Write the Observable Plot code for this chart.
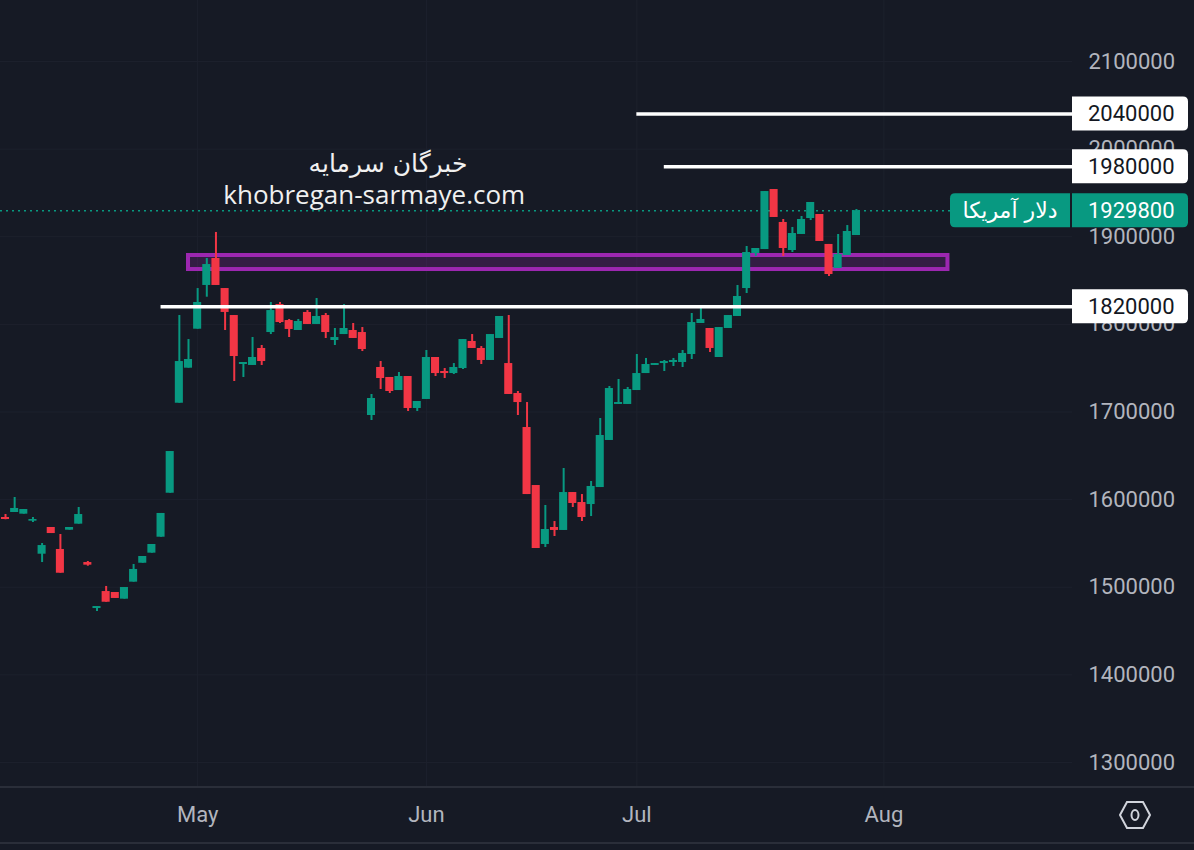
<!DOCTYPE html>
<html>
<head>
<meta charset="utf-8">
<script src="https://cdn.jsdelivr.net/npm/d3@7"></script>
<script src="https://cdn.jsdelivr.net/npm/@observablehq/plot@0.6"></script>
<style>
html, body { margin: 0; padding: 0; background: #161a25; overflow: hidden; }
#chart { width: 1194px; height: 850px; }
</style>
</head>
<body>
<div id="chart"></div>
<script>
// ---------- data ----------
const candleIndex = d3.range(94);
const openPrices = [
  1579600,1585300,1583400,1575400,1537700,1568200,1543100,1565100,1572000,1528200,
  1475700,1495100,1494000,1486400,1505800,1527400,1538900,1557100,1607300,1710000,
  1750000,1794500,1844400,1875200,1840900,1810100,1754200,1753100,1772500,1790700,
  1822700,1804400,1793000,1813600,1799900,1810100,1781600,1788400,1793000,1790700,
  1696000,1750800,1739400,1724500,1740500,1704000,1714300,1762200,1746200,1743900,
  1749600,1780500,1772500,1758800,1783900,1755300,1721100,1682300,1616100,1548800,
  1568200,1564800,1608100,1596700,1594400,1613800,1667500,1708600,1708600,1724500,
  1743900,1753100,1755300,1756500,1756500,1765600,1801000,1795300,1762200,1795300,
  1809000,1840900,1880900,1885400,1953900,1916300,1884300,1902600,1920800,1925400,
  1891200,1863800,1878600,1901400
];
const highPrices = [
  1583000,1602400,1588700,1579600,1549900,1568200,1560200,1568200,1591000,1529400,
  1478000,1500900,1494000,1499700,1526000,1535100,1548800,1584200,1654900,1810100,
  1782700,1840900,1875200,1904900,1840900,1810100,1756500,1785000,1775900,1825000,
  1825000,1805600,1805600,1815800,1829500,1812400,1795300,1822700,1801000,1796400,
  1720000,1757600,1739400,1745100,1740500,1712000,1770200,1762200,1749600,1755300,
  1782700,1788400,1774700,1788400,1809000,1810100,1723400,1710800,1616100,1593300,
  1575000,1635500,1608100,1605800,1620700,1692600,1729100,1737100,1728000,1765600,
  1761100,1755300,1758800,1761100,1770200,1812400,1819300,1795300,1796400,1810100,
  1844400,1888900,1886600,1951600,1953900,1919700,1910600,1923100,1939100,1925400,
  1891200,1902600,1912800,1931100
];
const lowPrices = [
  1577000,1585300,1583400,1573900,1528200,1561300,1516000,1565100,1572000,1524000,
  1472300,1482900,1487200,1486400,1505800,1527400,1538900,1557100,1607300,1710000,
  1750000,1794500,1831000,1844400,1793000,1734800,1739400,1753100,1753100,1788400,
  1801000,1785000,1793000,1799900,1799900,1783900,1775900,1788400,1783900,1769000,
  1690300,1725700,1721100,1724500,1700600,1700600,1714300,1740500,1738200,1742800,
  1748500,1772500,1754200,1758800,1783900,1720000,1696000,1605800,1544200,1545400,
  1557900,1564800,1591000,1575000,1580700,1613800,1667500,1708600,1708600,1724500,
  1743900,1753100,1746200,1751900,1750800,1759900,1801000,1767900,1762200,1795300,
  1809000,1835200,1877500,1885400,1922000,1877500,1882000,1902600,1918500,1894600,
  1854600,1863800,1878600,1901400
];
const closePrices = [
  1577300,1589900,1588700,1577300,1547600,1561300,1516000,1568200,1583000,1525200,
  1478000,1482900,1487200,1499700,1520300,1535100,1548800,1584200,1654900,1757600,
  1759900,1825000,1868300,1844400,1813600,1763300,1756500,1762200,1757600,1815800,
  1802100,1794200,1803300,1799900,1809000,1790700,1785000,1795300,1783900,1771300,
  1715400,1738200,1723400,1740500,1704000,1712000,1762200,1743900,1743900,1750800,
  1782700,1772500,1758800,1788400,1809000,1720000,1710800,1605800,1544200,1565900,
  1564800,1608100,1595600,1579600,1615000,1673200,1726800,1710800,1725700,1743900,
  1754200,1755300,1757600,1758800,1766800,1802100,1805600,1772500,1796400,1810100,
  1831800,1882000,1886600,1951600,1922000,1886600,1903700,1919700,1939100,1894600,
  1856900,1879700,1906000,1929800
];
const priceTicks = [1300000,1400000,1500000,1600000,1700000,1800000,1900000,2000000,2100000];
const monthTickBars = [21, 46, 69, 96];
const monthNames = ["May", "Jun", "Jul", "Aug"];
const levelPrices = [2040000, 1980000, 1820000];
const levelStartBars = [69, 72, 17];
const zoneLowHigh = [1862600, 1878600];
const zoneStartEnd = [20, 103];
const lastPrice = 1929800;
const symbolLabel = "دلار آمریکا";
const watermarkLines = ["خبرگان سرمایه", "khobregan-sarmaye.com"];
const watermarkBars = [41.8, 40.3];
const watermarkPrices = [1982500, 1947400];

// ---------- derived tables ----------
const candles = candleIndex.map(i => ({
  i, o: openPrices[i], h: highPrices[i], l: lowPrices[i], c: closePrices[i],
  up: closePrices[i] >= openPrices[i]
}));
const upCandles = candles.filter(d => d.up);
const downCandles = candles.filter(d => !d.up);
const xDomain = [-0.5464, 116.612];
const levels = levelPrices.map((p, k) => ({p, start: levelStartBars[k], end: xDomain[1]}));
const zone = [{x1: zoneStartEnd[0], x2: zoneStartEnd[1], y1: zoneLowHigh[0], y2: zoneLowHigh[1]}];
const wmPersian = [{t: watermarkLines[0], x: watermarkBars[0], y: watermarkPrices[0]}];
const wmLatin = [{t: watermarkLines[1], x: watermarkBars[1], y: watermarkPrices[1]}];

// ---------- style ----------
const GREEN = "#089981", RED = "#f23645", BG = "#161a25", TXT = "#b2b5be",
      GRID = "#1d212d", PURPLE = "#9c27b0", SEP = "#2a2e39";
const W = 1194, H = 850, MR = 122, MB = 63;
const HALF = 0.44;

function roundedPath(x, y, w, h, r, left, right) {
  const rl = left ? r : 0, rr = right ? r : 0;
  return `M${x + rl},${y} H${x + w - rr} Q${x + w},${y} ${x + w},${y + rr} V${y + h - rr} Q${x + w},${y + h} ${x + w - rr},${y + h} H${x + rl} Q${x},${y + h} ${x},${y + h - rl} V${y + rl} Q${x},${y} ${x + rl},${y} Z`;
}

const priceLabels = (index, scales, values, dims) => {
  const g = d3.create("svg:g").attr("text-anchor", "start");
  const x0 = dims.width - dims.marginRight;
  const bw = 116, bh = 34;
  levelPrices.forEach(p => {
    const y = scales.y(p);
    g.append("path").attr("d", roundedPath(x0, y - bh / 2, bw, bh, 5, false, true)).attr("fill", "#ffffff");
    g.append("text").attr("x", x0 + 16).attr("y", y).attr("dy", "0.36em").attr("text-anchor", "start")
      .attr("fill", "#131722").attr("font-size", 22).attr("font-family", "Roboto, sans-serif").text(p);
  });
  const yl = scales.y(lastPrice);
  g.append("path").attr("d", roundedPath(x0, yl - bh / 2, bw, bh, 5, false, true)).attr("fill", GREEN);
  g.append("text").attr("x", x0 + 16).attr("y", yl).attr("dy", "0.36em").attr("text-anchor", "start")
    .attr("fill", "#ffffff").attr("font-size", 22).attr("font-family", "Roboto, sans-serif").text(lastPrice);
  const sw = 120;
  g.append("path").attr("d", roundedPath(x0 - 2 - sw, yl - bh / 2, sw, bh, 5, true, false)).attr("fill", GREEN);
  g.append("text").attr("x", x0 - 2 - sw / 2).attr("y", yl).attr("dy", "0.36em")
    .attr("text-anchor", "middle")
    .attr("fill", "#ffffff").attr("font-size", 22).attr("font-family", "'DejaVu Sans', sans-serif").text(symbolLabel);
  return g.node();
};

const decor = (index, scales, values, dims) => {
  const g = d3.create("svg:g");
  const yb = dims.height - dims.marginBottom;
  g.append("line").attr("x1", 0).attr("x2", dims.width).attr("y1", yb).attr("y2", yb)
    .attr("stroke", SEP).attr("stroke-width", 2);
  g.append("line").attr("x1", 0).attr("x2", dims.width).attr("y1", dims.height - 7).attr("y2", dims.height - 7)
    .attr("stroke", SEP).attr("stroke-width", 2);
  const cx = 1135, cy = yb + 28;
  g.append("path")
    .attr("d", `M${cx - 15},${cy} L${cx - 8},${cy - 13} L${cx + 8},${cy - 13} L${cx + 15},${cy} L${cx + 8},${cy + 13} L${cx - 8},${cy + 13} Z`)
    .attr("fill", "none").attr("stroke", "#d1d4dc").attr("stroke-width", 2);
  g.append("ellipse").attr("cx", cx).attr("cy", cy).attr("rx", 3.5).attr("ry", 5)
    .attr("fill", "none").attr("stroke", "#d1d4dc").attr("stroke-width", 2);
  return g.node();
};

const chart = Plot.plot({
  width: W, height: H,
  marginLeft: 0, marginRight: MR, marginTop: 0, marginBottom: MB,
  style: {background: BG, color: TXT, fontFamily: "Roboto, sans-serif", fontSize: "22px", overflow: "visible"},
  x: {type: "linear", domain: xDomain},
  y: {type: "linear", domain: [1271467, 2169615]},
  marks: [
    Plot.gridY(priceTicks, {stroke: GRID, strokeOpacity: 1}),
    Plot.gridX(monthTickBars, {stroke: GRID, strokeOpacity: 1}),
    Plot.axisY(priceTicks, {anchor: "right", tickSize: 0, tickPadding: 16, textAnchor: "start",
      tickFormat: d3.format("d"), fill: TXT, fontSize: 22}),
    Plot.axisX(monthTickBars, {anchor: "bottom", tickSize: 0, tickPadding: 19,
      tickFormat: d => monthNames[monthTickBars.indexOf(d)], fill: TXT, fontSize: 22}),
    Plot.ruleY([lastPrice], {stroke: GREEN, strokeWidth: 1.5, strokeDasharray: "2 4"}),
    Plot.rect(zone, {x1: "x1", x2: "x2", y1: "y1", y2: "y2", fill: PURPLE, fillOpacity: 0.22, stroke: PURPLE, strokeWidth: 4}),
    Plot.ruleX(upCandles, {x: "i", y1: "l", y2: "h", stroke: GREEN, strokeWidth: 2}),
    Plot.ruleX(downCandles, {x: "i", y1: "l", y2: "h", stroke: RED, strokeWidth: 2}),
    Plot.rect(upCandles, {x1: d => d.i - HALF, x2: d => d.i + HALF, y1: "o", y2: "c", fill: GREEN}),
    Plot.rect(downCandles, {x1: d => d.i - HALF, x2: d => d.i + HALF, y1: "o", y2: "c", fill: RED}),
    Plot.ruleY(levels, {y: "p", x1: "start", x2: "end", stroke: "#ffffff", strokeWidth: 3.5}),
    Plot.text(wmPersian, {x: "x", y: "y", text: "t", fill: "#f0f0f0", fontSize: 25, fontFamily: "'DejaVu Sans', sans-serif"}),
    Plot.text(wmLatin, {x: "x", y: "y", text: "t", fill: "#f0f0f0", fontSize: 26, fontFamily: "'Open Sans', sans-serif"}),
    priceLabels,
    decor
  ]
});
document.getElementById("chart").appendChild(chart);
</script>
</body>
</html>
